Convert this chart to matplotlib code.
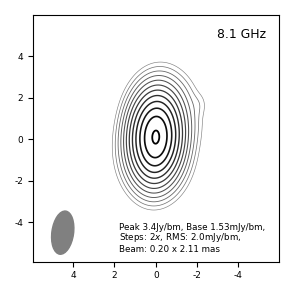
import numpy as np
import matplotlib
matplotlib.use("Agg")
import matplotlib.pyplot as plt
from matplotlib.patches import Ellipse

plt.rcParams["axes.unicode_minus"] = False

# Gaussian model components of the source (mas, relative amplitude)
comp_amp = [0.34, 0.63, 0.0135, 0.0135, 0.00035]
comp_x   = [0.0, 0.0, -0.25, 0.05, -2.1]
comp_y   = [0.1, 0.12, 1.0, -0.6, 1.7]
comp_sx  = [0.33, 0.5, 0.75, 0.75, 0.25]
comp_sy  = [0.66, 0.875, 1.0, 1.0, 0.35]
comp_pa  = [2.0, 3.0, 3.0, 0.0, 0.0]   # deg, tilt of major axis

peak_mjy = 3400.0
base_mjy = 1.53
n_levels = 12
freq_label = "8.1 GHz"
info_lines = ["Peak 3.4Jy/bm, Base 1.53mJy/bm,",
              "Steps: 2$x$, RMS: 2.0mJy/bm,",
              "Beam: 0.20 x 2.11 mas"]
info_y = [0.140, 0.097, 0.050]
beam_xy = (4.5, -4.5)
beam_w, beam_h, beam_pa = 1.05, 2.1, 8.0

ticks = [4, 2, 0, -2, -4]

# ── build model map ──────────────────────────────────────────────────────────
x = np.linspace(-6.2, 6.2, 500)
y = np.linspace(-6.2, 6.2, 500)
X, Y = np.meshgrid(x, y)
Z = np.zeros_like(X)
for a, x0, y0, sx, sy, pa in zip(comp_amp, comp_x, comp_y, comp_sx, comp_sy, comp_pa):
    t = np.deg2rad(pa)
    dx, dy = X - x0, Y - y0
    along = -dx * np.sin(t) + dy * np.cos(t)
    across = dx * np.cos(t) + dy * np.sin(t)
    Z += a * np.exp(-0.5 * ((across / sx) ** 2 + (along / sy) ** 2))
Z = Z / Z.max() * peak_mjy

levels = base_mjy * 2.0 ** np.arange(n_levels)
shade = np.linspace(0.5, 0.0, n_levels)
colors = [(s, s, s) for s in shade]
widths = np.linspace(0.45, 1.3, n_levels)

fig = plt.figure(figsize=(2.95, 2.95), dpi=100)
ax = fig.add_axes([0.111, 0.113, 0.834, 0.836])
ax.contour(X, Y, Z, levels=levels, colors=colors, linewidths=widths)

ax.add_patch(Ellipse(beam_xy, beam_w, beam_h, angle=beam_pa,
                     facecolor="grey", edgecolor="grey"))

ax.set_xlim(5.95, -5.95)
ax.set_ylim(-5.9, 6.0)
ax.set_xticks(ticks)
ax.set_yticks(ticks)
ax.tick_params(labelsize=6.5, length=3.5, width=0.8)

ax.text(0.948, 0.92, freq_label, transform=ax.transAxes,
        ha="right", va="center", fontsize=8.9)
for line, yy in zip(info_lines, info_y):
    ax.text(0.351, yy, line, transform=ax.transAxes,
            ha="left", va="center", fontsize=6.3)

fig.savefig("out.png", dpi=100)
